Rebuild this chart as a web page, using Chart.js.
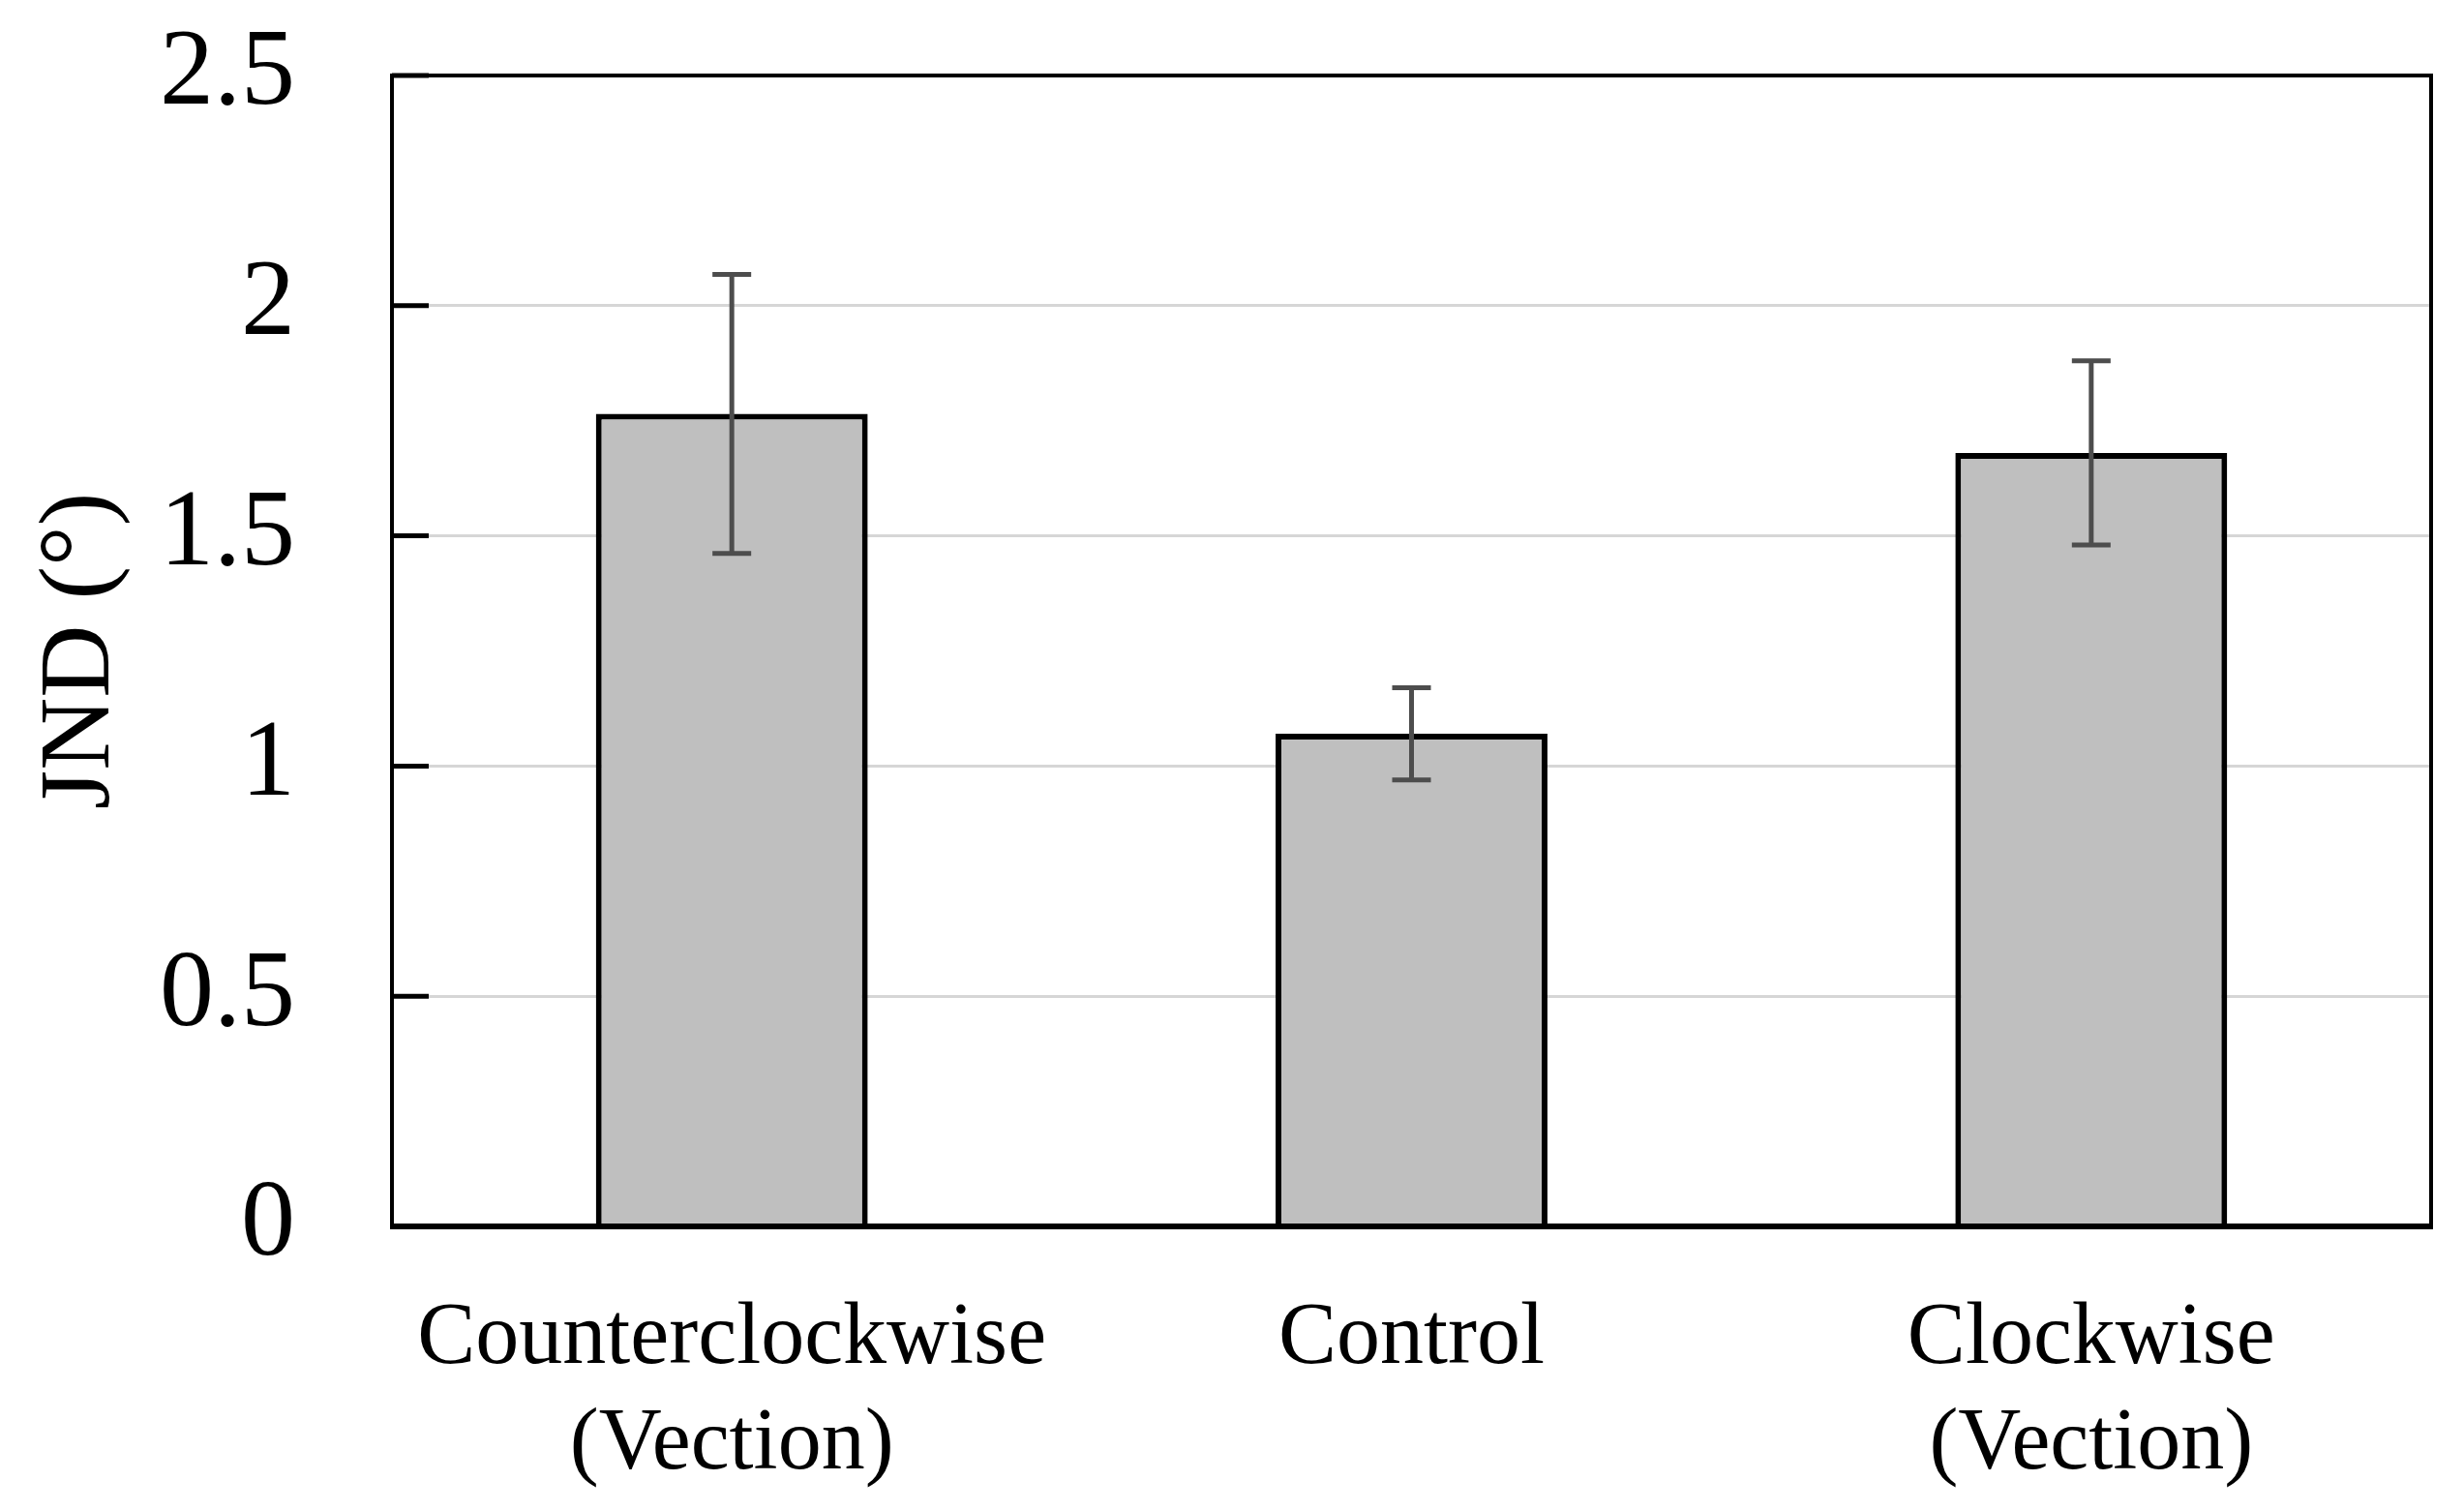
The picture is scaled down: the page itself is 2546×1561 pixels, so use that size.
<!DOCTYPE html>
<html>
<head>
<meta charset="utf-8">
<script src="https://cdn.jsdelivr.net/npm/chart.js@4.4.1/dist/chart.umd.min.js"></script>
<style>
  html, body { margin: 0; padding: 0; background: #fff; }
  #wrap { width: 2546px; height: 1561px; position: relative; }
</style>
</head>
<body>
<div id="wrap"><canvas id="mainChart"></canvas></div>
<script>
const categories = [
  ["Counterclockwise", "(Vection)"],
  ["Control"],
  ["Clockwise", "(Vection)"]
];
const jndValues = [1.765, 1.07, 1.68];
const jndErrors = [0.303, 0.10, 0.20];
const yTicks = [0, 0.5, 1, 1.5, 2, 2.5];

const FONT = "'Liberation Serif', 'Times New Roman', serif";

// error bars + inner tick marks + frame, all from the chart scales
const extrasPlugin = {
  id: "extras",
  afterDatasetsDraw(chart) {
    const ctx = chart.ctx;
    const x = chart.scales.x;
    const y = chart.scales.y;
    const area = chart.chartArea;

    ctx.save();
    ctx.strokeStyle = "#4d4d4d";
    ctx.lineWidth = 5;
    jndValues.forEach((v, i) => {
      const cx = x.getPixelForValue(i);
      const top = y.getPixelForValue(v + jndErrors[i]);
      const bot = y.getPixelForValue(v - jndErrors[i]);
      ctx.beginPath();
      ctx.moveTo(cx, top);
      ctx.lineTo(cx, bot);
      ctx.moveTo(cx - 20, top);
      ctx.lineTo(cx + 20, top);
      ctx.moveTo(cx - 20, bot);
      ctx.lineTo(cx + 20, bot);
      ctx.stroke();
    });

    // short ticks pointing into the plot
    ctx.strokeStyle = "#000";
    ctx.lineWidth = 5;
    yTicks.forEach(t => {
      const py = y.getPixelForValue(t);
      ctx.beginPath();
      ctx.moveTo(area.left, py);
      ctx.lineTo(area.left + 38, py);
      ctx.stroke();
    });

    // frame
    ctx.lineWidth = 4;
    ctx.strokeRect(area.left, area.top, area.right - area.left, area.bottom - area.top);
    ctx.lineWidth = 6;
    ctx.beginPath();
    ctx.moveTo(area.left - 2, area.bottom);
    ctx.lineTo(area.right + 2, area.bottom);
    ctx.stroke();
    ctx.restore();
  }
};

const ctx = document.getElementById("mainChart").getContext("2d");

new Chart(ctx, {
  type: "bar",
  data: {
    labels: categories,
    datasets: [{
      label: "JND",
      data: jndValues,
      backgroundColor: "#bfbfbf",
      borderColor: "#000",
      borderWidth: 6,
      categoryPercentage: 0.8,
      barPercentage: 0.5
    }]
  },
  options: {
    responsive: true,
    maintainAspectRatio: false,
    devicePixelRatio: 1,
    animation: false,
    layout: {
      padding: { top: 78, right: 34, left: 0, bottom: 0 }
    },
    plugins: {
      legend: { display: false },
      tooltip: { enabled: false }
    },
    scales: {
      x: {
        grid: { display: false, drawTicks: false },
        border: { display: false },
        ticks: {
          color: "#000",
          padding: 62,
          maxRotation: 0,
          autoSkip: false,
          font: { family: FONT, size: 90, lineHeight: 1.22 }
        },
        afterFit(scale) { scale.height = 294; }
      },
      y: {
        min: 0,
        max: 2.5,
        afterBuildTicks(scale) {
          scale.ticks = yTicks.map(v => ({ value: v }));
        },
        grid: {
          color: "#d6d6d6",
          lineWidth: 3,
          drawTicks: false
        },
        border: { display: false },
        ticks: {
          color: "#000",
          padding: 100,
          font: { family: FONT, size: 112, lineHeight: 1.2 },
          callback: v => String(v)
        },
        title: {
          display: true,
          text: "JND (°)",
          color: "#000",
          padding: { top: 22, bottom: 0 },
          font: { family: FONT, size: 104 }
        },
        afterFit(scale) {
          scale.width = 405;
          // tick padding should not push the plot area down
          scale.paddingTop = 0;
          scale.paddingBottom = 0;
        }
      }
    }
  },
  plugins: [extrasPlugin]
});
</script>
</body>
</html>
